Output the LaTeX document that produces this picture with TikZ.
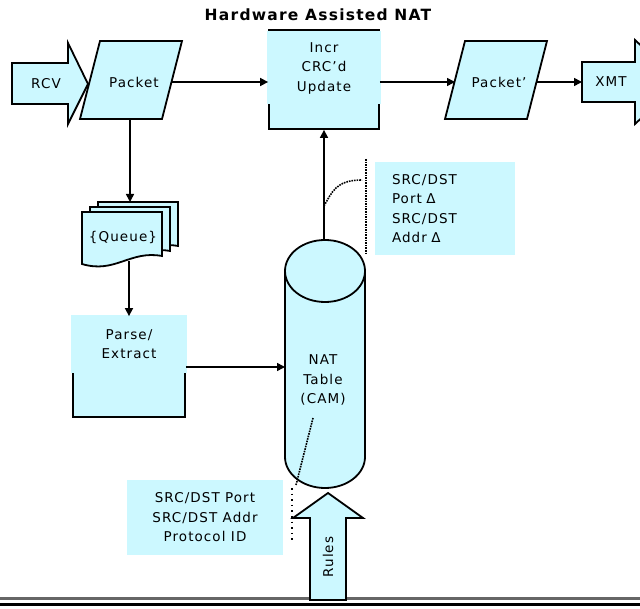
\documentclass[tikz,border=0pt]{standalone}
\usepackage{fontspec}
\setmainfont{DejaVu Sans}[LetterSpace=8]
\usetikzlibrary{arrows.meta,positioning}
\definecolor{natfill}{HTML}{CCF8FF}
\tikzset{
  shapebox/.style={draw=black,fill=natfill,line width=1.8pt,inner sep=0pt},
  plainbox/.style={fill=natfill,inner sep=0pt,align=center},
  flow/.style={-{Triangle[length=8pt,width=8pt]},line width=1.6pt},
  note/.style={densely dotted,line width=1.6pt},
}
\begin{document}
\begin{tikzpicture}[x=1pt,y=-1pt,font=\fontsize{13.5}{19.5}\selectfont]
  \useasboundingbox (0,0) rectangle (640,609);
  \clip (0,0) rectangle (640,609);
  % ground lines
  \draw[line width=3pt,black!60] (0,598) -- (640,598);
  \draw[line width=3pt] (0,604) -- (640,604);
  \node[font=\bfseries\fontsize{15.5}{18}\selectfont] (title) at (318,15) {Hardware Assisted NAT};
  % receive side
  \draw[shapebox] (12,63) -- (68,63) -- (68,43) -- (88,84) -- (68,124) -- (68,104) -- (12,104) -- cycle;
  \node (rcv) at (46,84) {RCV};
  \draw[shapebox] (80,119) -- (100,41) -- (182,41) -- (162,119) -- cycle;
  \node (pkt) at (134,82) {Packet};
  \coordinate (pktr) at (172,82);
  \coordinate (pktb) at (130,119);
  \node[shapebox,minimum width=110pt,minimum height=99pt] (incr) at (324,79.5) {};
  \node[plainbox,minimum width=114pt,minimum height=73pt] (incrtxt) at (324,68) {Incr\\CRC'd\\Update};
  \draw[shapebox] (445,119) -- (465,41) -- (547,41) -- (527,119) -- cycle;
  \node (pktout) at (499,82) {Packet'};
  \coordinate (pktoutl) at (455,82);
  \coordinate (pktoutr) at (537,82);
  % transmit side
  \draw[shapebox] (582,62) -- (635,62) -- (635,40) -- (680,82) -- (635,124) -- (635,102) -- (582,102) -- cycle;
  \node (xmt) at (611,82) {XMT};
  \coordinate (xmtin) at (582,82);
  % queue
  \foreach \d in {16,8,0}
    \draw[shapebox,shift={(\d,-0.625*\d)}] (82,212) -- (162,212) -- (162,256) .. controls (130,250) and (115,274) .. (82,264) -- cycle;
  \node (queue) at (123,237) {\{Queue\}};
  \coordinate (qtop) at (130,202);
  \coordinate (qbot) at (129,261);
  \node[shapebox,minimum width=112pt,minimum height=100pt] (parse) at (129,367) {};
  \node[plainbox,minimum width=116pt,minimum height=58pt] (parsetxt) at (129,344) {Parse/\\Extract};
  % NAT table
  \draw[shapebox] (285,271) -- (285,457) .. controls (285,474) and (303,488) .. (325,488) .. controls (347,488) and (365,474) .. (365,457) -- (365,271) -- cycle;
  \draw[shapebox] (325,271) ellipse [x radius=40,y radius=31];
  \node[align=center] (nat) at (323,380) {NAT\\Table\\(CAM)};
  \coordinate (nattop) at (324,240);
  \coordinate (natin) at (285,367);
  % callouts
  \node[plainbox,align=left,minimum width=140pt,minimum height=93pt,text width=106pt] (delta) at (445,208.5) {SRC/DST\\Port Δ\\SRC/DST\\Addr Δ};
  \node[plainbox,minimum width=156pt,minimum height=75pt] (fields) at (205,517.5) {SRC/DST Port\\SRC/DST Addr\\Protocol ID};
  \draw[note] (324,206) .. controls (332,192) and (336,180) .. (362,180);
  \draw[note] (366,159) -- (366,253);
  \draw[note] (313,418) -- (296,485);
  \draw[note,loosely dotted] (292,488) -- (292,540);
  % rules
  \draw[shapebox] (310,600) -- (310,518) -- (293,518) -- (328,493) -- (363,518) -- (346,518) -- (346,600) -- cycle;
  \node[rotate=90] (rules) at (328,557) {Rules};
  % flow
  \draw[flow] (pktr) -- (incr.west |- pktr);
  \draw[flow] (incr.east |- pktoutl) -- (pktoutl);
  \draw[flow] (pktoutr) -- (xmtin);
  \draw[flow] (pktb) -- (qtop);
  \draw[flow] (qbot) -- (qbot |- parse.north);
  \draw[flow] (parse.east) -- (natin);
  \draw[flow] (nattop) -- (incr.south);
\end{tikzpicture}
\end{document}
